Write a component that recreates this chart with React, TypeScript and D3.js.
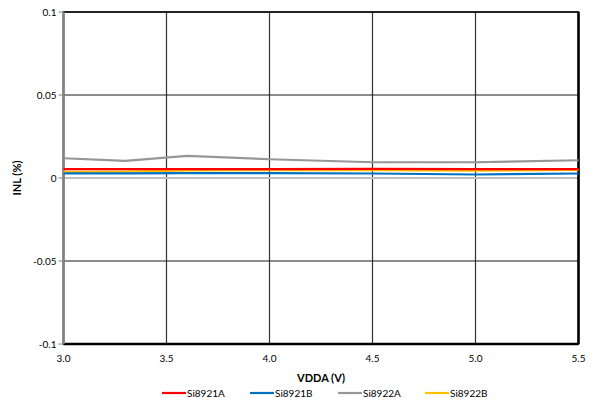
import React from "react";
import * as d3 from "d3";

const xValues = [3.0, 3.3, 3.6, 4.0, 4.5, 5.0, 5.5];
const si8921A = [0.0053, 0.0053, 0.0054, 0.0054, 0.0055, 0.0053, 0.0053];
const si8921B = [0.0028, 0.0028, 0.0029, 0.0029, 0.0027, 0.0021, 0.0027];
const si8922A = [0.0119, 0.0103, 0.0133, 0.0113, 0.0095, 0.0095, 0.0107];
const si8922B = [0.0037, 0.0038, 0.0046, 0.0047, 0.0047, 0.0045, 0.0049];
const xTicks = [3.0, 3.5, 4.0, 4.5, 5.0, 5.5];
const yTicks = [-0.1, -0.05, 0, 0.05, 0.1];
const yTickLabels = ["-0.1", "-0.05", "0", "0.05", "0.1"];
const seriesNames = ["Si8921A", "Si8921B", "Si8922A", "Si8922B"];
const seriesColors = ["#ff0000", "#0070c0", "#969696", "#ffc000"];
const seriesData = [si8921A, si8921B, si8922A, si8922B];

const W = 595, H = 404;
const L = 63.5, R = 578.5, T = 12, B = 344;
const FONT = "Lato, 'Open Sans', sans-serif";

export default function App() {
  const x = d3.scaleLinear().domain([3.0, 5.5]).range([L, R]);
  const y = d3.scaleLinear().domain([-0.1, 0.1]).range([B, T]);
  const line = d3.line<[number, number]>().x(d => x(d[0])).y(d => y(d[1]));
  const legendX = [162, 250, 338, 425];
  const drawOrder = [2, 3, 0, 1];
  return (
    <svg width={W} height={H} style={{ position: "absolute", left: 0, top: 0, background: "#fff" }}>
      {xTicks.slice(1, -1).map(t => (
        <line key={"gx" + t} x1={x(t)} x2={x(t)} y1={T} y2={B} stroke="#333" strokeWidth={1.2} />
      ))}
      {yTicks.filter(t => t !== 0 && t !== -0.1).map(t => (
        <line key={"gy" + t} x1={L} x2={R} y1={y(t)} y2={y(t)} stroke="#1a1a1a" strokeWidth={1} />
      ))}
      <line x1={L} x2={R} y1={y(0)} y2={y(0)} stroke="#bfbfbf" strokeWidth={2} />
      <rect x={L} y={T} width={R - L} height={B - T} fill="none" stroke="#000" strokeWidth={1.5} />
      <line x1={L} x2={R} y1={B} y2={B} stroke="#000" strokeWidth={2.5} />
      <line x1={R} x2={R} y1={T} y2={B} stroke="#000" strokeWidth={2.5} />
      <line x1={L} x2={L} y1={T} y2={B} stroke="#808080" strokeWidth={2.5} />
      {yTicks.map((t, i) => (
        <g key={"yt" + t}>
          <line x1={L - 5} x2={L} y1={y(t)} y2={y(t)} stroke="#808080" strokeWidth={1} />
          <text x={L - 7} y={y(t)} dy="0.35em" textAnchor="end" fontFamily={FONT} fontSize={10} fill="#000">{yTickLabels[i]}</text>
        </g>
      ))}
      {xTicks.map(t => (
        <text key={"xt" + t} x={x(t)} y={362} textAnchor="middle" fontFamily={FONT} fontSize={10} fill="#000">{t.toFixed(1)}</text>
      ))}
      {drawOrder.map(i => (
        <path key={seriesNames[i]} d={line(xValues.map((v, j) => [v, seriesData[i][j]]) as [number, number][]) || ""}
          fill="none" stroke={seriesColors[i]} strokeWidth={2.2} />
      ))}
      <text x={(L + R) / 2} y={382} textAnchor="middle" fontFamily={FONT} fontSize={11} fontWeight="bold">VDDA (V)</text>
      <text transform={`translate(21,${(T + B) / 2}) rotate(-90)`} textAnchor="middle" fontFamily={FONT} fontSize={11} fontWeight="bold">INL (%)</text>
      {seriesNames.map((n, i) => (
        <g key={"lg" + n}>
          <line x1={legendX[i]} x2={legendX[i] + 24} y1={393} y2={393} stroke={seriesColors[i]} strokeWidth={2.2} />
          <text x={legendX[i] + 25} y={393} dy="0.35em" fontFamily={FONT} fontSize={10}>{n}</text>
        </g>
      ))}
    </svg>
  );
}
